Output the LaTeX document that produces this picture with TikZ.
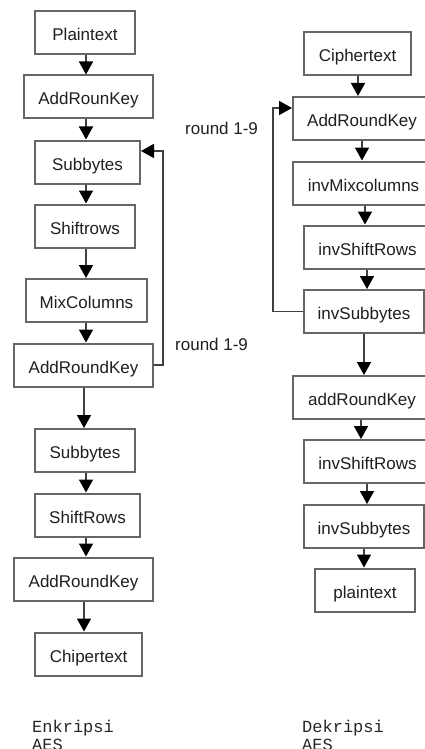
\documentclass[tikz,border=0pt]{standalone}
\usepackage{fontspec}
\setmainfont{Liberation Sans}
\setmonofont{Liberation Mono}
\usetikzlibrary{arrows.meta,calc}

\tikzset{
  stepbox/.style={draw=black!60, line width=2pt, fill=white, inner sep=0pt,
    minimum height=43pt, text height=16pt, text depth=0pt,
    font=\fontsize{17}{20}\selectfont, text=black!88},
  flow/.style={draw=black!75, line width=1.6pt,
    -{Triangle[width=14pt,length=13pt,fill=black,color=black]}},
  note/.style={font=\fontsize{17}{20}\selectfont, text=black!88, inner sep=0pt, anchor=west},
  caption/.style={font=\ttfamily\fontsize{17}{18}\selectfont, text=black!85,
    inner sep=0pt, anchor=north west, align=left}
}

\begin{document}
\begin{tikzpicture}[x=1pt,y=1pt]
\useasboundingbox (0,0) rectangle (425,-749);
\clip (0,0) rectangle (425,-749);

% ---- encryption column ----
\node[stepbox, minimum width=100pt] (p1) at (85,-33)    {Plaintext};
\node[stepbox, minimum width=129pt] (a1) at (88.5,-97)  {AddRounKey};
\node[stepbox, minimum width=105pt] (s1) at (87.5,-162) {Subbytes};
\node[stepbox, minimum width=100pt] (r1) at (85,-226)   {Shiftrows};
\node[stepbox, minimum width=121pt] (m1) at (86.5,-300.5) {MixColumns};
\node[stepbox, minimum width=139pt] (k1) at (83.5,-365) {AddRoundKey};
\node[stepbox, minimum width=100pt] (s2) at (85,-450.5) {Subbytes};
\node[stepbox, minimum width=105pt] (r2) at (87.5,-515) {ShiftRows};
\node[stepbox, minimum width=139pt] (k2) at (83.5,-579) {AddRoundKey};
\node[stepbox, minimum width=107pt] (c1) at (88.5,-654) {Chipertext};

\coordinate (lx) at (86,0);
\coordinate (lxb) at (84,0);
\coordinate (loopL) at (163,0);

\draw[flow] (p1.south -| lx) -- (a1.north -| lx);
\draw[flow] (a1.south -| lx) -- (s1.north -| lx);
\draw[flow] (s1.south -| lx) -- (r1.north -| lx);
\draw[flow] (r1.south -| lx) -- (m1.north -| lx);
\draw[flow] (m1.south -| lx) -- (k1.north -| lx);
\draw[flow] (k1.south -| lxb) -- (s2.north -| lxb);
\draw[flow] (s2.south -| lx) -- (r2.north -| lx);
\draw[flow] (r2.south -| lx) -- (k2.north -| lx);
\draw[flow] (k2.south -| lxb) -- (c1.north -| lxb);

% round loop back to Subbytes
\draw[flow] (k1.east) -- (k1.east -| loopL) |- ([yshift=11pt]s1.east);
\node[note] (n1) at (175,-344) {round 1-9};

% ---- decryption column ----
\node[stepbox, minimum width=107pt] (c2) at (357.5,-54)  {Ciphertext};
\node[stepbox, minimum width=138pt] (a2) at (362,-118.5) {AddRoundKey};
\node[stepbox, minimum width=141pt] (m2) at (363.5,-183) {invMixcolumns};
\node[stepbox, minimum width=127pt] (r3) at (367.5,-247) {invShiftRows};
\node[stepbox, minimum width=120pt] (s3) at (364,-311.5) {invSubbytes};
\node[stepbox, minimum width=138pt] (a3) at (362,-397.5) {addRoundKey};
\node[stepbox, minimum width=127pt] (r4) at (367.5,-461.5) {invShiftRows};
\node[stepbox, minimum width=120pt] (s4) at (364,-526.5) {invSubbytes};
\node[stepbox, minimum width=100pt] (p2) at (365,-590)   {plaintext};

\coordinate (x358) at (358,0);
\coordinate (x361) at (361,0);
\coordinate (x362) at (362,0);
\coordinate (x364) at (364,0);
\coordinate (x365) at (365,0);
\coordinate (x367) at (367,0);
\coordinate (loopR) at (273,0);

\draw[flow] (c2.south -| x358) -- (a2.north -| x358);
\draw[flow] (a2.south -| x362) -- (m2.north -| x362);
\draw[flow] (m2.south -| x365) -- (r3.north -| x365);
\draw[flow] (r3.south -| x367) -- (s3.north -| x367);
\draw[flow] (s3.south -| x364) -- (a3.north -| x364);
\draw[flow] (a3.south -| x361) -- (r4.north -| x361);
\draw[flow] (r4.south -| x367) -- (s4.north -| x367);
\draw[flow] (s4.south -| x364) -- (p2.north -| x364);

% round loop back to AddRoundKey
\draw[flow] (s3.west) -- (s3.west -| loopR) |- ([yshift=10.5pt]a2.west);
\node[note] (n2) at (185,-128) {round 1-9};

% ---- captions ----
\node[caption] (t1) at (32,-720) {Enkripsi\\AES};
\node[caption] (t2) at (302,-720) {Dekripsi\\AES};
\end{tikzpicture}
\end{document}
